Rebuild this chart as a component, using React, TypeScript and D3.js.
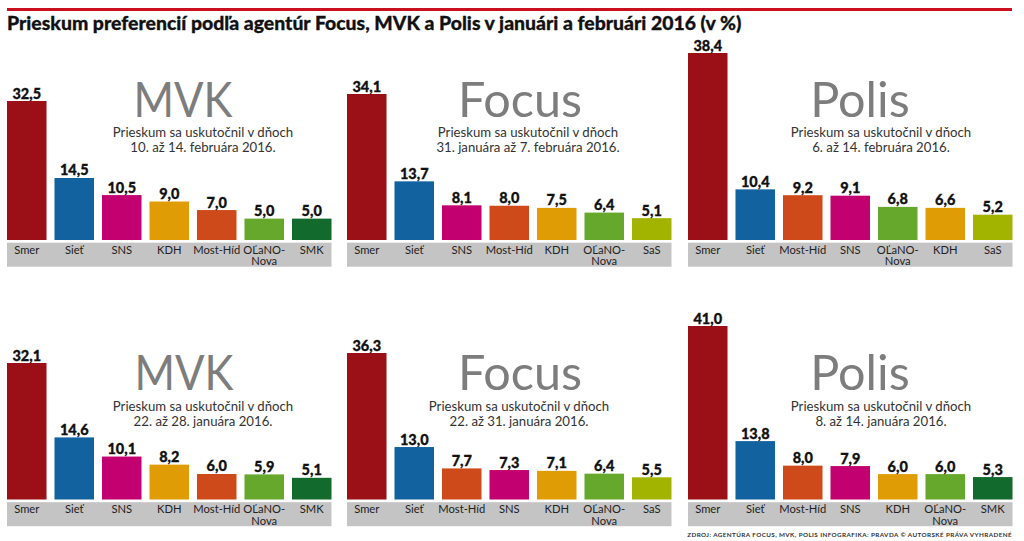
import React from 'react';
import * as d3 from 'd3';

const mvkFebParties = ['Smer', 'Sieť', 'SNS', 'KDH', 'Most-Híd', 'OĽaNO-Nova', 'SMK'];
const mvkFebValues = [32.5, 14.5, 10.5, 9.0, 7.0, 5.0, 5.0];
const focusFebParties = ['Smer', 'Sieť', 'SNS', 'Most-Híd', 'KDH', 'OĽaNO-Nova', 'SaS'];
const focusFebValues = [34.1, 13.7, 8.1, 8.0, 7.5, 6.4, 5.1];
const polisFebParties = ['Smer', 'Sieť', 'Most-Híd', 'SNS', 'OĽaNO-Nova', 'KDH', 'SaS'];
const polisFebValues = [38.4, 10.4, 9.2, 9.1, 6.8, 6.6, 5.2];
const mvkJanParties = ['Smer', 'Sieť', 'SNS', 'KDH', 'Most-Híd', 'OĽaNO-Nova', 'SMK'];
const mvkJanValues = [32.1, 14.6, 10.1, 8.2, 6.0, 5.9, 5.1];
const focusJanParties = ['Smer', 'Sieť', 'Most-Híd', 'SNS', 'KDH', 'OĽaNO-Nova', 'SaS'];
const focusJanValues = [36.3, 13.0, 7.7, 7.3, 7.1, 6.4, 5.5];
const polisJanParties = ['Smer', 'Sieť', 'Most-Híd', 'SNS', 'KDH', 'OĽaNO-Nova', 'SMK'];
const polisJanValues = [41.0, 13.8, 8.0, 7.9, 6.0, 6.0, 5.3];

const partyColors: Record<string, string> = {
  Smer: '#9b0f17',
  'Sieť': '#11629f',
  SNS: '#c2006f',
  KDH: '#e09c05',
  'Most-Híd': '#cf4a1a',
  'OĽaNO-Nova': '#66a82c',
  SMK: '#126b2c',
  SaS: '#a3b400',
};

const sans = "Lato, 'Open Sans', sans-serif";

// per panel: position, and where the tallest bar ends (each panel has its own scale in the source)
const panels = [
  { agency: 'MVK', dates: '10. až 14. februára 2016.', parties: mvkFebParties, values: mvkFebValues, x: 7, base: 240, top: 101, cx: 183, subCx: 203, titleY: 117, subY: 137 },
  { agency: 'Focus', dates: '31. januára až 7. februára 2016.', parties: focusFebParties, values: focusFebValues, x: 347, base: 240, top: 94, cx: 520, subCx: 528, titleY: 117, subY: 137 },
  { agency: 'Polis', dates: '6. až 14. februára 2016.', parties: polisFebParties, values: polisFebValues, x: 688, base: 240, top: 53, cx: 860, subCx: 881, titleY: 117, subY: 137 },
  { agency: 'MVK', dates: '22. až 28. januára 2016.', parties: mvkJanParties, values: mvkJanValues, x: 7, base: 499.5, top: 363, cx: 184, subCx: 203, titleY: 390, subY: 411 },
  { agency: 'Focus', dates: '22. až 31. januára 2016.', parties: focusJanParties, values: focusJanValues, x: 347, base: 499.5, top: 353, cx: 520, subCx: 519, titleY: 390, subY: 411 },
  { agency: 'Polis', dates: '8. až 14. januára 2016.', parties: polisJanParties, values: polisJanValues, x: 688, base: 499.5, top: 326, cx: 860, subCx: 881, titleY: 390, subY: 411 },
];

const comma = (v: number) => v.toFixed(1).replace('.', ',');

const Panel = ({ p }: any) => {
  const x = d3.scaleBand<string>().domain(p.parties).range([p.x, p.x + 324.5]).paddingInner(0.168).paddingOuter(0);
  const y = d3.scaleLinear().domain([0, d3.max(p.values as number[]) as number]).range([p.base, p.top]);
  // Lato's M is wider than the original face, so MVK gets squeezed a bit
  const titleFit = p.agency === 'MVK' ? { textLength: 99, lengthAdjust: 'spacingAndGlyphs' } : {};
  return (
    <g>
      <rect x={p.x} y={p.base + 2.7} width={324.5} height={24} fill="#c4c4c4" />
      {p.parties.map((name: string, i: number) => {
        const bx = x(name) as number;
        const mid = bx + x.bandwidth() / 2;
        const split = name.split('-');
        return (
          <g key={name}>
            <rect x={bx} y={y(p.values[i])} width={x.bandwidth()} height={p.base - y(p.values[i])} fill={partyColors[name]} />
            <text x={mid} y={y(p.values[i]) - 2.5} textAnchor="middle" fontSize={14.5} fontWeight={900} fontFamily={sans} fill="#111" stroke="#111" strokeWidth={0.3}>{comma(p.values[i])}</text>
            {name === 'OĽaNO-Nova' ? (
              <text textAnchor="middle" fontSize={11.2} fontFamily={sans} fill="#222">
                <tspan x={mid} y={p.base + 13.5}>{split[0]}-</tspan>
                <tspan x={mid} y={p.base + 25}>{split[1]}</tspan>
              </text>
            ) : (
              <text x={mid} y={p.base + 13.5} textAnchor="middle" fontSize={11.2} fontFamily={sans} fill="#222">{name}</text>
            )}
          </g>
        );
      })}
      <text x={p.cx} y={p.titleY} textAnchor="middle" fontSize={48.5} fontFamily={sans} fontWeight={400} fill="#7d7d7d" {...titleFit}>{p.agency}</text>
      <text textAnchor="middle" fontSize={13.2} fontFamily={sans} fill="#333">
        <tspan x={p.subCx} y={p.subY}>Prieskum sa uskutočnil v dňoch</tspan>
        <tspan x={p.subCx} y={p.subY + 15}>{p.dates}</tspan>
      </text>
    </g>
  );
};

export default function App() {
  return (
    <svg width={1024} height={541} style={{ position: 'absolute', left: 0, top: 0, background: '#fff' }}>
      <rect x={7} y={8} width={1005} height={3} fill="#c8101e" />
      <text x={7} y={30} fontSize={19.4} fontWeight={900} fontFamily={sans} fill="#111" stroke="#111" strokeWidth={0.3}>Prieskum preferencií podľa agentúr Focus, MVK a Polis v januári a februári 2016 (v %)</text>
      {panels.map((p, i) => <Panel key={i} p={p} />)}
      <text x={1012} y={537} textAnchor="end" fontSize={6.3} fontWeight={700} fontFamily={sans} fill="#333" letterSpacing={0.4}>ZDROJ: AGENTÚRA FOCUS, MVK, POLIS  INFOGRAFIKA: PRAVDA © AUTORSKÉ PRÁVA VYHRADENÉ</text>
    </svg>
  );
}
